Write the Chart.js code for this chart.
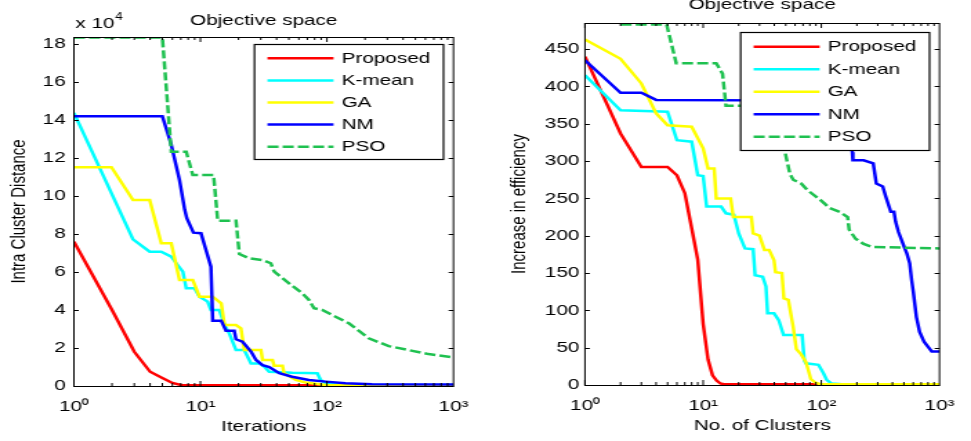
<!DOCTYPE html>
<html>
<head>
<meta charset="utf-8">
<script src="https://cdn.jsdelivr.net/npm/chart.js@4.4.1/dist/chart.umd.min.js"></script>
<style>
html,body{margin:0;padding:0;background:#fff;}
#wrap{position:relative;width:971px;height:441px;overflow:hidden;background:#fff;}
canvas{position:absolute;top:0;}
#c1{left:0;}
#c2{left:485px;}
</style>
</head>
<body>
<div id="wrap">
  <!-- drawn narrow, shown wide: the source figure is stretched sideways -->
  <canvas id="c1" width="351" height="441" style="width:485px;height:441px"></canvas>
  <canvas id="c2" width="352" height="441" style="width:486px;height:441px"></canvas>
</div>
<script>
// === DATA ===
const seriesNames = ["Proposed","K-mean","GA","NM","PSO"];
const xTickVals = [1,10,100,1000];
const xTickLabels = ["10\u2070","10\u00b9","10\u00b2","10\u00b3"];

// left: intra cluster distance (x 10^4) vs iterations
const distTicks = [0,2,4,6,8,10,12,14,16,18];
const propIterX = [1,2,3,4,5,6,7,1000];
const propDist  = [7.6,4.0,1.8,0.75,0.42,0.16,0.05,0.02];
const kmIterX = [1,2.93,3.97,4.9,5.88,6.44,7.26,7.72,8.97,9.82,11.4,12.1,14.1,15.5,16.9,19.1,22.2,25.1,29.1,31.9,34.9,53.3,83.9,89.2,97.7,150,1000];
const kmDist  = [14.38,7.72,7.07,7.07,6.81,6.46,6.02,5.14,5.14,4.7,4.44,4.0,4.0,3.21,2.77,1.89,1.89,1.19,1.19,1.02,0.75,0.70,0.67,0.32,0.14,0.06,0.05];
const gaIterX = [1,1.98,2.93,3.97,4.9,5.88,6.83,8.7,9.82,12.5,14.6,15.5,19.1,20.9,22.2,30.1,31,37.1,38.3,44.5,45.8,56.7,68,97.7,1000];
const gaDist  = [11.51,11.51,9.79,9.79,7.51,7.51,5.58,5.58,4.7,4.7,4.35,3.21,3.21,3.03,1.89,1.89,1.37,1.37,1.07,1.07,0.67,0.32,0.18,0.05,0.03];
const nmIterX = [1,5,5.88,6.83,7.5,7.8,8.8,10.1,12.1,12.5,14.6,15.9,18.5,19.1,21.5,25.1,27.5,31,35,42,53,72,98,140,227,1000];
const nmDist  = [14.2,14.2,12.7,10.84,9.3,8.83,8.07,8.04,6.28,3.44,3.44,2.91,2.91,2.46,2.33,1.81,1.37,1.1,1.0,0.67,0.49,0.32,0.23,0.14,0.09,0.08];
const psoIterX = [1,5,5.88,7.72,8.7,12.7,13.7,19.1,20.3,24.3,31,36,38.3,50.2,63.9,72.1,79,91.8,117,149,168,214,308,442,635,1000];
const psoDist  = [18.35,18.35,12.33,12.33,11.1,11.1,8.7,8.7,6.95,6.72,6.63,6.46,6.02,5.4,4.88,4.53,4.09,4.0,3.65,3.3,3.04,2.51,2.1,1.89,1.68,1.51];

// right: increase in efficiency vs no. of clusters
const effTicks = [0,50,100,150,200,250,300,350,400,450];
const propClX = [1,2,3,4,5,6,7,8,9,10,11,12,13,14,15,1000];
const propEff = [440,337,292,292,292,281,257,210,168,82,34,13,6,2,1,1];
const kmClX = [1,2,5,6,8,9,10,10.7,14.2,15.6,18.2,20,22.6,26.5,27.5,31.9,34,35.1,39.8,43.6,47.9,68.8,71.8,74,94.6,104,111,122,150,1000];
const kmEff = [415,368,366,328,326,281,280,239,239,230,228,203,183,182,147,145,132,96,96,87,67,67,33,29,27,16,7,2,1,1];
const gaClX = [1,2,3,4,5,8,10,11,12.4,12.9,17.1,18,25.6,26.5,30,33,36.2,39.8,41,46.4,48.2,52.6,57.8,61.5,67.5,74,78.9,81.4,89.4,98,1000];
const gaEff = [463,437,404,364,348,346,317,290,290,250,250,225,225,203,200,181,181,167,151,150,116,114,78,48,41,31,16,8,3,1,1];
const nmClX = [1,2,3,4,120,175,183,185,228,275,292,331,352,387,412,425,450,497,530,560,581,600,638,679,740,820,860,1000];
const nmEff = [435,391.5,391.5,382,381,330,312,301,301,297,270,266,252,232,232,219,205,187,176,163,141,125,91,71,58,49,45,45];
const psoClX = [2,4.91,5.92,12.9,14.6,15.6,24.1,30,40,47,49.3,54.2,57.8,67.5,76.5,98.1,118,143,167,172,195,228,267,1000];
const psoEff = [483,483,431,431,417,374,374,372,345,320,312,283,275,270,261,248,237,232,225,208,196,189,185,183];

// === STILE ===
const colors = ["#ff0000","#00ffff","#ffff00","#0000ff","#1fc150"];
const dashes = [[],[],[],[],[8,3]];
const FONT = "'Liberation Sans', Arial, sans-serif";
Chart.defaults.font.family = FONT;
Chart.defaults.font.size = 15;
Chart.defaults.color = "#000";

function pts(xs,ys){ return xs.map((x,i)=>({x:x,y:ys[i]})); }

function makeSets(list){
  return list.map((s,i)=>({
    label:seriesNames[i], data:pts(s[0],s[1]),
    borderColor:colors[i], backgroundColor:colors[i],
    borderWidth:2.5, borderDash:dashes[i], pointRadius:0, tension:0, fill:false,
    order:5-i
  }));
}

// === FRAME, LEGEND, TITLE ===
const framePlugin = {
  id:"frame",
  afterDatasetsDraw(chart,args,o){
    const ctx=chart.ctx, a=chart.chartArea, x=chart.scales.x, y=chart.scales.y;
    ctx.save();
    // inward ticks
    ctx.strokeStyle="#000"; ctx.lineWidth=1; ctx.setLineDash([]);
    ctx.beginPath();
    o.yTicks.forEach(v=>{
      const py=Math.round(y.getPixelForValue(v))+0.5;
      ctx.moveTo(a.left,py); ctx.lineTo(a.left+3.5,py);
      ctx.moveTo(a.right,py); ctx.lineTo(a.right-3.5,py);
    });
    for(let d=1;d<1000;d*=10){
      for(let m=1;m<10;m++){
        const px=x.getPixelForValue(m*d), len=m===1?5:3;
        ctx.moveTo(px,a.bottom); ctx.lineTo(px,a.bottom-len);
        ctx.moveTo(px,a.top); ctx.lineTo(px,a.top+len);
      }
    }
    ctx.stroke();
    ctx.strokeRect(a.left,Math.round(a.top)+0.5,a.right-a.left,Math.round(a.bottom-a.top));

    // legend box
    const lw=136.8, lh=o.legH;
    const lx=a.right-7.2-lw, ly=a.top+o.legTop;
    ctx.fillStyle="#fff"; ctx.fillRect(lx,ly,lw,lh);
    ctx.strokeStyle="#000"; ctx.lineWidth=1.2;
    ctx.strokeRect(lx,Math.round(ly)+0.5,lw,lh);
    ctx.font="15px "+FONT; ctx.textBaseline="middle"; ctx.textAlign="left";
    chart.data.datasets.forEach((ds,i)=>{
      const ry=ly+o.legRow0+i*o.legStep;
      ctx.strokeStyle=ds.borderColor; ctx.lineWidth=2.5; ctx.setLineDash(ds.borderDash||[]);
      ctx.beginPath(); ctx.moveTo(lx+9.4,ry); ctx.lineTo(lx+57.2,ry); ctx.stroke();
      ctx.setLineDash([]);
      ctx.fillStyle="#000"; ctx.fillText(ds.label,lx+63,ry+0.5);
    });

    // title
    ctx.textAlign="center"; ctx.fillStyle="#000";
    ctx.fillText(o.title,(a.left+a.right)/2,a.top-o.titleGap);

    // scale note  x 10^4
    if(o.note){
      ctx.textAlign="left"; ctx.textBaseline="alphabetic";
      ctx.fillText("x 10",a.left+1,28);
      const w=ctx.measureText("x 10").width;
      ctx.font="10px "+FONT;
      ctx.fillText(o.note,a.left+1+w+0.5,20);
    }
    ctx.restore();
  }
};

function buildChart(id,cfg){
  return new Chart(document.getElementById(id),{
    type:"line",
    data:{datasets:makeSets(cfg.series)},
    options:{
      responsive:false, animation:false, events:[],
      layout:{padding:{left:0,top:cfg.top,right:cfg.right,bottom:0}},
      plugins:{legend:{display:false},title:{display:false},tooltip:{enabled:false},
        frame:{yTicks:cfg.yTicks,title:"Objective space",titleGap:cfg.titleGap,note:cfg.note,
          legTop:cfg.legTop,legH:cfg.legH,legRow0:cfg.legRow0,legStep:cfg.legStep}},
      scales:{
        x:{type:"logarithmic",min:1,max:1000,
          afterBuildTicks:s=>{s.ticks=xTickVals.map(v=>({value:v}));},
          afterFit:s=>{s.height=cfg.xH;},
          grid:{display:false,drawTicks:false},border:{display:false},
          ticks:{autoSkip:false,maxRotation:0,padding:12,callback:(v,i)=>xTickLabels[i]},
          title:{display:true,text:cfg.xTitle,padding:{top:0,bottom:cfg.xTitlePad}}},
        y:{min:0,max:cfg.yMax,
          afterBuildTicks:s=>{s.ticks=cfg.yTicks.map(v=>({value:v}));},
          afterFit:s=>{s.width=cfg.yW;},
          grid:{display:false,drawTicks:false},border:{display:false},
          ticks:{padding:cfg.yPad},
          title:{display:true,text:cfg.yTitle,padding:{top:cfg.yTitlePad,bottom:0}}}
      }
    },
    plugins:[framePlugin]
  });
}

buildChart("c1",{
  series:[[propIterX,propDist],[kmIterX,kmDist],[gaIterX,gaDist],[nmIterX,nmDist],[psoIterX,psoDist]],
  yTicks:distTicks, yMax:18.37, xTitle:"Iterations", yTitle:"Intra Cluster Distance",
  top:37, right:21.8, xH:55, yW:53.5, yPad:6, xTitlePad:5, yTitlePad:5,
  titleGap:16, note:"4", legTop:7, legH:115, legRow0:14.3, legStep:22.1
});

buildChart("c2",{
  series:[[propClX,propEff],[kmClX,kmEff],[gaClX,gaEff],[nmClX,nmEff],[psoClX,psoEff]],
  yTicks:effTicks, yMax:485, xTitle:"No. of Clusters", yTitle:"Increase in efficiency",
  top:23, right:12.4, xH:56, yW:72.4, yPad:4, xTitlePad:6, yTitlePad:16.3,
  titleGap:18, note:null, legTop:9, legH:118, legRow0:14.7, legStep:22.5
});
</script>
</body>
</html>
